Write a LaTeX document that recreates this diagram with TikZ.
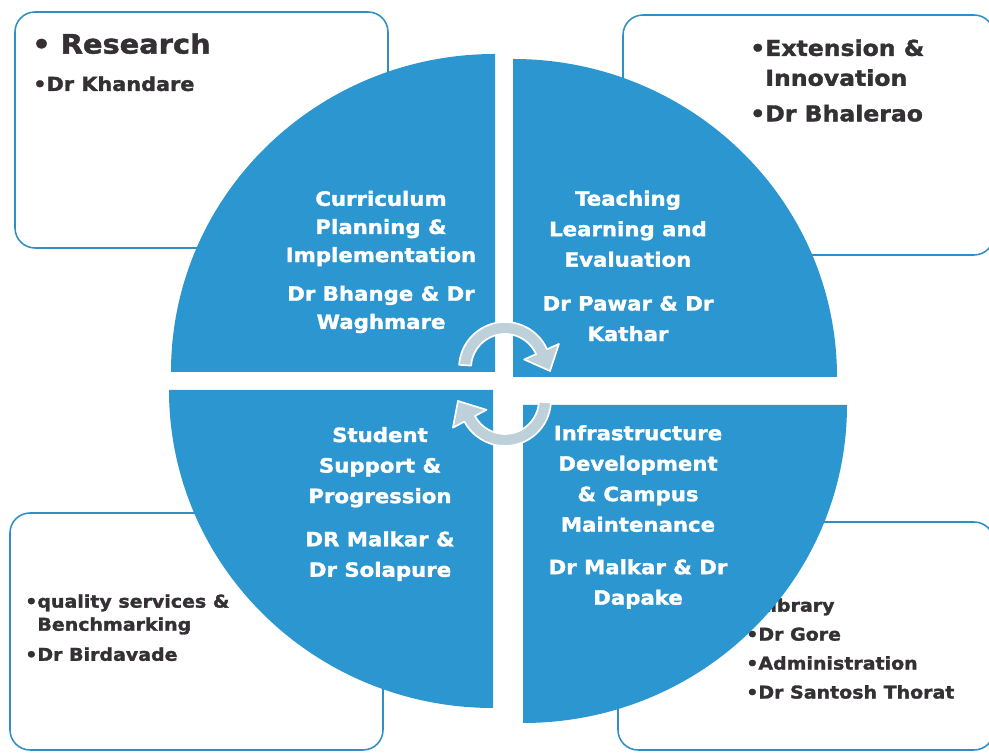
\documentclass[tikz,border=0pt]{standalone}
\usepackage{fontspec}
\setmainfont{DejaVu Sans}[FakeStretch=1.08, BoldFeatures={FakeBold=1.6}]
\usepackage{xcolor}
\usepackage{tikz}

\definecolor{quadblue}{RGB}{43,150,207}
\definecolor{boxblue}{RGB}{47,143,196}
\definecolor{arrowgray}{RGB}{190,208,217}
\definecolor{boxtext}{RGB}{52,48,52}

\begin{document}
\begin{tikzpicture}[x=0.025cm, y=0.025cm,
	infobox/.style={draw=boxblue, line width=1.1pt, fill=white, rounded corners=5mm},
	quad/.style={fill=quadblue},
	quadtext/.style={text=white, align=center, inner sep=0, font=\bfseries\fontsize{14}{21.7}\selectfont},
	boxtxt/.style={text=boxtext, align=left, anchor=north west, inner sep=0},
	cycarrow/.style={fill=arrowgray, draw=white, line width=1.2pt, line join=round}]

\useasboundingbox (0,0) rectangle (989,753);

% the four corner boxes
\draw[infobox] (15,505) rectangle (388,741);
\draw[infobox] (623,498) rectangle (994,738);
\draw[infobox] (10,3) rectangle (383,240);
\draw[infobox] (618,3) rectangle (994,231);

\node[boxtxt, font=\bfseries\fontsize{19}{23}\selectfont] (research) at (32,720) {• Research};
\node[boxtxt, font=\bfseries\fontsize{13.7}{18}\selectfont] (khandare) at (33,677) {•Dr Khandare};
\node[boxtxt, font=\bfseries\fontsize{15.5}{21.3}\selectfont] (extension) at (750,714)
	{•Extension \&\\\hphantom{•}Innovation\\[4pt]•Dr Bhalerao};
\node[boxtxt, font=\bfseries\fontsize{12.5}{16.4}\selectfont] (quality) at (25,159)
	{•quality services \&\\\hphantom{•}Benchmarking\\[5pt]•Dr Birdavade};
\node[boxtxt, font=\bfseries\fontsize{12.5}{20.6}\selectfont] (library) at (746,155)
	{•Library\\•Dr Gore\\•Administration\\•Dr Santosh Thorat};

% circle cut in four
\foreach \cx/\cy/\a in {495/381/90, 513/376/0, 493/363/180, 523/348/270}{
	\fill[quad] (\cx,\cy) -- ++({324*cos(\a)},{318*sin(\a)})
		arc[start angle=\a, end angle=\a+90, x radius=324, y radius=318] -- cycle;
}

\node[quadtext, font=\bfseries\fontsize{14}{20}\selectfont] (curriculum) at (381,491)
	{Curriculum\\Planning \&\\Implementation\\[7.5pt]Dr Bhange \& Dr\\Waghmare};
\node[quadtext] (teaching) at (628,487)
	{Teaching\\Learning and\\Evaluation\\[9.5pt]Dr Pawar \& Dr\\Kathar};
\node[quadtext] (student) at (380,249)
	{Student\\Support \&\\Progression\\[9pt]DR Malkar \&\\Dr Solapure};
\node[quadtext] (infra) at (638,236)
	{Infrastructure\\Development\\\& Campus\\Maintenance\\[8.5pt]Dr Malkar \& Dr\\Dapake};

% turning arrows in the middle
\begin{scope}[shift={(505,385)}]
\draw[cycarrow] (176:46) arc[start angle=176, end angle=24, radius=46]
	-- (24:59) -- (45,-3) -- (24:21) -- (24:34)
	arc[start angle=24, end angle=176, radius=34] -- cycle;
\end{scope}
\begin{scope}[shift={(505,353)}]
\draw[cycarrow] (-3:46) arc[start angle=-3, end angle=-152, radius=46]
	-- (-152:59) -- (-47,-1) -- (-152:21) -- (-152:34)
	arc[start angle=-152, end angle=-3, radius=34] -- cycle;
\end{scope}

\end{tikzpicture}
\end{document}
